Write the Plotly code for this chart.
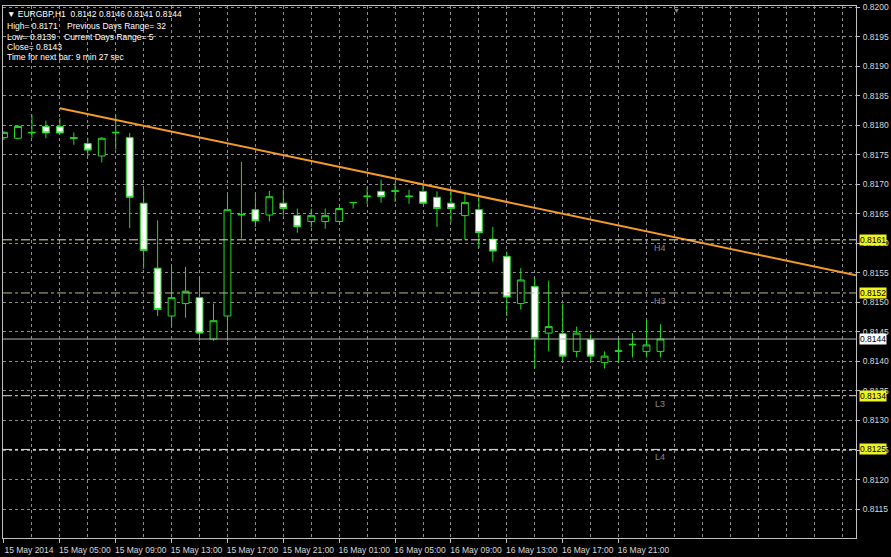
import plotly.graph_objects as go

# ---- data ---------------------------------------------------------------
opens = [0.81779, 0.81778, 0.81787, 0.81798, 0.81798, 0.81779, 0.81769, 0.81748,
         0.81787, 0.81779, 0.81668, 0.81558, 0.81477, 0.81498, 0.81508, 0.81438,
         0.81477, 0.81648, 0.81657, 0.81648, 0.81668, 0.81647, 0.81637, 0.81637,
         0.81637, 0.81669, 0.81679, 0.81688, 0.81688, 0.81679, 0.81688, 0.81678,
         0.81668, 0.81647, 0.81657, 0.81607, 0.81578, 0.81498, 0.81527, 0.81448,
         0.81447, 0.81417, 0.81437, 0.81398, 0.81417, 0.81428, 0.81417, 0.81417]
highs = [0.81790, 0.81800, 0.81818, 0.81808, 0.81812, 0.81788, 0.81779, 0.81780,
         0.81818, 0.81787, 0.81692, 0.81639, 0.81560, 0.81560, 0.81542, 0.81498,
         0.81682, 0.81738, 0.81683, 0.81689, 0.81691, 0.81659, 0.81659, 0.81659,
         0.81662, 0.81670, 0.81695, 0.81708, 0.81703, 0.81691, 0.81700, 0.81688,
         0.81691, 0.81684, 0.81678, 0.81628, 0.81586, 0.81558, 0.81541, 0.81537,
         0.81498, 0.81459, 0.81446, 0.81417, 0.81438, 0.81448, 0.81470, 0.81463]
lows = [0.81775, 0.81776, 0.81779, 0.81778, 0.81784, 0.81767, 0.81748, 0.81737,
        0.81759, 0.81626, 0.81557, 0.81477, 0.81457, 0.81474, 0.81435, 0.81435,
        0.81435, 0.81608, 0.81628, 0.81637, 0.81647, 0.81618, 0.81627, 0.81625,
        0.81637, 0.81659, 0.81667, 0.81669, 0.81670, 0.81667, 0.81667, 0.81628,
        0.81636, 0.81606, 0.81592, 0.81569, 0.81477, 0.81488, 0.81388, 0.81417,
        0.81399, 0.81407, 0.81399, 0.81388, 0.81398, 0.81407, 0.81407, 0.81407]
closes = [0.81788, 0.81798, 0.81788, 0.81787, 0.81787, 0.81778, 0.81758, 0.81778,
          0.81788, 0.81678, 0.81588, 0.81488, 0.81508, 0.81519, 0.81448, 0.81469,
          0.81657, 0.81649, 0.81638, 0.81679, 0.81659, 0.81628, 0.81647, 0.81647,
          0.81659, 0.81669, 0.81680, 0.81679, 0.81689, 0.81680, 0.81668, 0.81659,
          0.81659, 0.81669, 0.81618, 0.81587, 0.81509, 0.81538, 0.81439, 0.81459,
          0.81409, 0.81448, 0.81409, 0.81409, 0.81418, 0.81429, 0.81428, 0.81438]
bar_index = list(range(len(opens)))  # hourly bars from 15 May 2014 01:00

tick_bars = [0, 4, 8, 12, 16, 20, 24, 28, 32, 36, 40, 44]
tick_labels = ["15 May 2014", "15 May 05:00", "15 May 09:00", "15 May 13:00",
               "15 May 17:00", "15 May 21:00", "16 May 01:00", "16 May 05:00",
               "16 May 09:00", "16 May 13:00", "16 May 17:00", "16 May 21:00"]

trend_x = [4, 61]
trend_y = [0.81829, 0.81546]

levels = [0.81606, 0.81516, 0.81342, 0.81251]
level_names = ["H4", "H3", "L3", "L4"]
level_colors = ["#e6e6b4", "#bdb98a", "#e6e6b4", "#e6e6b4"]
bid = 0.81438

info_lines = [
    ("\u25BC EURGBP,H1  0.8142 0.8146 0.8141 0.8144", 6, 10),
    ("High= 0.8171", 6, 22),
    ("Previous Days Range= 32", 66, 22),
    ("Low= 0.8139", 6, 33),
    ("Current Days Range= 5", 63, 33),
    ("Close= 0.8143", 6, 43),
    ("Time for next bar: 9 min 27 sec", 6, 53),
]

FONT = "Liberation Sans"
GREEN = "#22dd22"
GRID = "#8c8c8c"

fig = go.Figure()
fig.add_trace(go.Candlestick(
    x=bar_index, open=opens, high=highs, low=lows, close=closes,
    increasing=dict(line=dict(color=GREEN, width=1), fillcolor="#000000"),
    decreasing=dict(line=dict(color=GREEN, width=1), fillcolor="#ffffff"),
    whiskerwidth=0, showlegend=False, hoverinfo="skip",
))
fig.add_trace(go.Scatter(
    x=trend_x, y=trend_y, mode="lines",
    line=dict(color="#f39a2a", width=2), showlegend=False, hoverinfo="skip",
))

# pivot levels
for v, name, col in zip(levels, level_names, level_colors):
    fig.add_shape(type="line", xref="paper", x0=0, x1=1, yref="y", y0=v, y1=v,
                  line=dict(color=col, width=1, dash="dashdot"))
    fig.add_annotation(x=bar_index[-1], y=v, xref="x", yref="y", text=name,
                       showarrow=False, yshift=-8,
                       font=dict(family=FONT, size=9, color="#8a8a8a"))
    fig.add_annotation(x=1, y=v, xref="paper", yref="y", text=f"{v:.4f}",
                       showarrow=False, xanchor="left", xshift=3,
                       bgcolor="#f2f21e", borderpad=0,
                       font=dict(family=FONT, size=8.5, color="#000000"))

# bid line
fig.add_shape(type="line", xref="paper", x0=0, x1=1, yref="y", y0=bid, y1=bid,
              line=dict(color="#b4b4b4", width=1))
fig.add_annotation(x=1, y=bid, xref="paper", yref="y", text=f"{bid:.4f}",
                   showarrow=False, xanchor="left", xshift=3,
                   bgcolor="#ffffff", borderpad=0,
                   font=dict(family=FONT, size=8.5, color="#000000"))

# info text
for txt, px, py in info_lines:
    fig.add_annotation(x=0, y=1, xref="paper", yref="paper", text=txt,
                       showarrow=False, xanchor="left", yanchor="middle",
                       xshift=px - 4, yshift=-(py - 2),
                       font=dict(family=FONT, size=8.5, color="#ffffff"))

# chart shift marker
fig.add_annotation(x=(683 - 2) / 855, y=1, xref="paper", yref="paper", text="\u25BC",
                   showarrow=False, yanchor="top", yshift=1,
                   font=dict(family=FONT, size=7, color="#8a8a8a"))

fig.update_layout(
    width=891, height=557,
    margin=dict(l=2, r=34, t=2, b=16),
    paper_bgcolor="#000000", plot_bgcolor="#000000",
    font=dict(family=FONT, size=8.5, color="#d8d8d8"),
    showlegend=False,
    boxgap=0.3,
)
fig.update_xaxes(
    range=[-0.07, 61.0], rangeslider_visible=False,
    tickmode="array", tickvals=tick_bars, ticktext=tick_labels,
    ticks="outside", ticklen=4, tickcolor="#c0c0c0", ticklabelshift=25,
    showgrid=True, gridcolor=GRID, griddash="3px,3px", gridwidth=1,
    minor=dict(tickmode="linear", tick0=0, dtick=2, showgrid=True,
               gridcolor=GRID, griddash="3px,3px", gridwidth=1),
    showline=True, mirror=True, linecolor="#c0c0c0", linewidth=1,
    zeroline=False, tickfont=dict(family=FONT, size=8.5, color="#d8d8d8"),
)
fig.update_yaxes(
    side="right", range=[0.81101, 0.82002],
    tickmode="linear", tick0=0.8115, dtick=0.0005, tickformat=".4f",
    ticks="outside", ticklen=3, tickcolor="#c0c0c0", ticklabelstandoff=1,
    ticklabeloverflow="allow",
    showgrid=True, gridcolor=GRID, griddash="3px,3px", gridwidth=1,
    showline=True, mirror=True, linecolor="#c0c0c0", linewidth=1,
    zeroline=False, tickfont=dict(family=FONT, size=8.5, color="#d8d8d8"),
)

fig.write_html(
    "out.html",
    config={"displayModeBar": False},
    post_script="document.body.style.margin='0';document.body.style.overflow='hidden';",
)
